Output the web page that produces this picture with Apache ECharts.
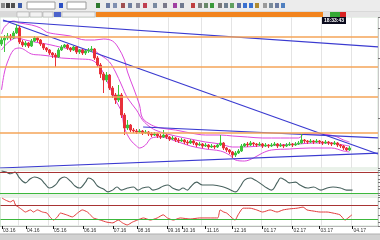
<!DOCTYPE html>
<html><head><meta charset="utf-8">
<script src="https://cdn.jsdelivr.net/npm/echarts@6/dist/echarts.min.js"></script>
<style>html,body{margin:0;padding:0;background:#fff;overflow:hidden}#c{width:380px;height:240px}</style>
</head><body><div id="c"></div>
<script>
// OHLC rows: [open, close, low, high]
const candles = [
[1724,1728,1722,1731],[1728,1730,1716,1733],[1730,1732,1728,1735],[1732,1730,1728,1734],[1730,1735,1729,1737],
[1735,1740,1734,1744],[1740,1726,1724,1742],[1726,1723,1721,1728],[1723,1725,1721,1727],[1725,1722,1720,1726],
[1722,1727,1721,1729],[1727,1730,1726,1732],[1730,1728,1726,1731],[1728,1724,1722,1729],[1724,1720,1718,1725],
[1720,1718,1716,1721],[1718,1715,1713,1719],[1715,1713,1710,1716],[1713,1711,1701,1715],[1711,1718,1710,1720],
[1718,1721,1717,1723],[1721,1723,1720,1724],[1723,1720,1718,1724],[1720,1718,1716,1721],[1718,1721,1717,1722],
[1721,1716,1714,1722],[1716,1718,1714,1719],[1718,1715,1713,1719],[1715,1717,1713,1718],[1717,1718,1715,1720],
[1718,1719,1716,1722],[1719,1710,1708,1720],[1710,1703,1701,1712],[1703,1694,1690,1705],[1694,1688,1675,1696],
[1688,1693,1686,1696],[1693,1680,1678,1694],[1680,1673,1670,1682],[1673,1668,1664,1675],[1668,1673,1666,1683],
[1673,1653,1650,1675],[1653,1640,1633,1655],[1640,1643,1638,1648],[1643,1638,1636,1644],[1638,1637,1635,1640],
[1637,1636,1634,1639],[1636,1637,1635,1639],[1637,1635,1633,1638],[1635,1636,1634,1638],[1636,1634,1632,1637],
[1634,1633,1631,1636],[1633,1634,1632,1636],[1634,1632,1630,1635],[1632,1631,1629,1634],[1631,1633,1630,1638],
[1633,1631,1629,1634],[1631,1629,1627,1632],[1629,1630,1628,1632],[1630,1628,1626,1631],[1628,1627,1625,1630],
[1627,1628,1626,1630],[1628,1626,1624,1629],[1626,1625,1623,1628],[1625,1627,1624,1629],[1627,1625,1623,1628],
[1625,1623,1621,1626],[1623,1624,1622,1626],[1624,1622,1620,1625],[1622,1623,1621,1625],[1623,1621,1619,1624],
[1621,1622,1620,1624],[1622,1621,1619,1623],[1621,1623,1620,1624],[1623,1625,1622,1633],[1625,1620,1618,1626],
[1620,1618,1616,1621],[1618,1616,1614,1619],[1616,1613,1610,1617],[1613,1615,1611,1617],[1615,1617,1614,1619],
[1617,1622,1616,1624],[1622,1624,1621,1625],[1624,1623,1621,1626],[1623,1625,1622,1627],[1625,1624,1622,1626],
[1624,1623,1621,1625],[1623,1624,1622,1626],[1624,1622,1620,1625],[1622,1623,1621,1625],[1623,1622,1620,1624],
[1622,1623,1621,1625],[1623,1624,1622,1626],[1624,1622,1620,1625],[1622,1623,1621,1625],[1623,1622,1620,1624],
[1622,1623,1621,1625],[1623,1624,1622,1626],[1624,1623,1621,1625],[1623,1624,1622,1626],[1624,1625,1623,1627],
[1625,1628,1624,1634],[1628,1627,1625,1629],[1627,1626,1624,1628],[1626,1627,1625,1629],[1627,1626,1624,1628],
[1626,1627,1625,1629],[1627,1626,1624,1628],[1626,1625,1623,1627],[1625,1626,1624,1628],[1626,1625,1623,1627],
[1625,1624,1622,1626],[1624,1625,1623,1627],[1625,1623,1621,1626],[1623,1622,1620,1624],[1622,1620,1618,1623],
[1620,1618,1617,1621],[1618,1620,1617,1622]
];
// Bollinger bands: [candle index, price]
const upperBand = [[0,1734],[1,1741],[4,1747],[6,1745],[10,1743],[13,1740],[15,1736],[18,1734],[23,1732],[28,1728],[31,1728],[34,1729],[37,1727],[39,1720],[41,1708],[42,1696],[44,1680],[46,1663],[47,1650],[50,1643],[53,1640],[58,1638],[63,1635],[68,1633],[73,1633],[77,1632],[82,1631],[87,1630],[93,1630],[99,1630],[101,1634],[106,1634],[111,1632],[114,1628],[116,1626]];
const midBand = [[0,1718],[2,1725],[5,1730],[8,1728],[11,1726],[15,1724],[18,1722],[21,1720],[26,1718],[30,1718],[33,1713],[36,1706],[38,1696],[40,1683],[42,1670],[45,1658],[47,1648],[50,1640],[53,1636],[58,1632],[63,1629],[68,1626],[73,1624],[77,1621],[81,1621],[86,1622],[93,1623],[99,1624],[104,1625],[110,1625],[114,1623],[116,1622]];
const lowerBand = [[0,1678],[1,1696],[2,1706],[4,1718],[6,1720],[10,1714],[13,1713],[16,1712],[20,1710],[26,1709],[30,1708],[33,1700],[35,1688],[38,1668],[40,1656],[41,1640],[43,1628],[45,1622],[46,1620],[48,1623],[50,1630],[53,1631],[58,1627],[63,1622],[68,1619],[73,1617],[76,1613],[78,1608],[81,1607],[84,1610],[87,1615],[90,1618],[96,1619],[103,1620],[110,1620],[114,1617],[116,1616]];
// Trend lines: pairs of [candle index, price]
const trendA = [[0.5,1747],[125.5,1721.1]];
const trendB = [[0.5,1748],[125.5,1614]];
const trendC = [[47.2,1641],[125.5,1630.1]];
const trendD = [[-0.5,1600],[125.5,1614.9]];
const levels = [1731, 1701, 1671.5, 1635];
// Oscillator panel
const osc = [[0,83],[1.5,80],[3,75],[4.5,80],[6,63],[8,49],[9.5,60],[11,66],[13,60],[14.5,46],[16,34],[18,43],[19.5,60],[21,66],[23,54],[24.5,40],[26,34],[28,51],[29,63],[30.5,57],[32,40],[34,31],[35.5,23],[37,28],[38.5,37],[40,28],[42,34],[44,37],[45.5,28],[47,34],[49,37],[50.5,28],[52,31],[54,40],[55.5,43],[57,34],[59,28],[60.5,34],[62,28],[63,37],[65,51],[67,43],[70.5,43],[74,37],[76.5,28],[78,23],[79.5,37],[81,57],[83,63],[84.5,57],[86,49],[88.5,34],[90,28],[92,51],[93,63],[94.5,57],[96,49],[98,51],[99.5,43],[102,34],[104,37],[106.5,28],[108.5,34],[110.5,37],[113,34],[115,28],[117,28]];
const oscLevels = [80, 20];
// RSI panel
const rsi = [[0,90],[1.2,84],[2.8,79],[3.8,84],[4.5,70],[5.5,64],[6.8,56],[7.8,50],[9.5,56],[10.5,50],[11.8,56],[13.5,50],[15,47],[16,36],[17.2,27],[18.5,36],[19.5,47],[21.5,42],[23.5,36],[25.2,47],[26.8,56],[28.5,50],[29.5,42],[30.5,33],[32.8,27],[35,21],[37,19],[38.8,27],[40.2,19],[41.8,13],[43.5,21],[45.2,27],[47.2,33],[49.5,27],[51.8,33],[53.8,42],[55.2,33],[57.2,27],[59.5,33],[62.8,30],[66,33],[69.5,33],[72,33],[72.8,56],[74,50],[75,47],[76.8,33],[77.8,27],[78.8,42],[80.5,61],[82.8,61],[85,56],[87,50],[89.5,56],[91.8,50],[93.8,56],[96,59],[98.5,61],[100.5,64],[101.8,56],[103.8,53],[106.2,50],[108.5,50],[110.5,47],[112.8,42],[114.5,27],[115.5,33],[116.8,42]];
const rsiLevels = [70, 30];
// Time axis
const slotCount = 126;
const tickIdx = [0, 8, 17, 27, 37, 45, 55, 60, 68, 77, 87, 97, 106, 117];
const tickText = ['03.16','04.16','05.16','06.16','07.16','08.16','09.16','10.16','11.16','12.16','01.17','02.17','03.17','04.17'];
const gridIdx = [6,16,26,36,46,56,67,77,87,97,107,117];
const clock = '18:33:43';

const slots = Array.from({length: slotCount}, (_, i) => String(i));
const isGrid = i => gridIdx.includes(i);
const isTick = i => tickIdx.includes(i);
const split = {show: true, interval: isGrid, lineStyle: {color: '#e4e4e4', width: 1}};

function catAxis(gi, withLabels) {
  return {
    type: 'category', gridIndex: gi, data: slots, boundaryGap: true, position: 'bottom',
    axisLine: {show: withLabels, onZero: false, lineStyle: {color: '#b8b8b8'}},
    axisTick: {show: withLabels, alignWithLabel: true, interval: isTick, length: 3, lineStyle: {color: '#111'}},
    axisLabel: {show: withLabels, interval: isTick, align: 'left', margin: 2, padding: [0,0,0,1],
      fontSize: 5, color: '#333', fontFamily: 'Liberation Sans',
      formatter: (v, i) => { const k = tickIdx.indexOf(i); return k >= 0 ? tickText[k] : ''; }},
    splitLine: split
  };
}
function valAxis(gi) {
  return {type: 'value', gridIndex: gi, min: -0.5, max: slotCount - 0.5, show: false, position: 'top',
    axisLine: {onZero: false}};
}
function yAx(gi, mn, mx) {
  return {type: 'value', gridIndex: gi, min: mn, max: mx, position: 'right',
    axisLine: {show: true, onZero: false, lineStyle: {color: '#c8c8c8'}},
    axisTick: {show: true, length: 2, lineStyle: {color: '#777'}},
    axisLabel: {show: false}, splitLine: {show: false}};
}
function line(data, xi, yi, color, w, smooth) {
  return {type: 'line', xAxisIndex: xi, yAxisIndex: yi, data, showSymbol: false, symbol: 'none',
    smooth: smooth, clip: true, silent: true, lineStyle: {color, width: w}, z: 3};
}
function levelLines(vals, colors, w) {
  return {symbol: 'none', silent: true, label: {show: false},
    data: vals.map((v, k) => ({yAxis: v, lineStyle: {color: colors[k], width: w, type: 'solid'}}))};
}

const icons = [[1,'#8a8a8a'],[6,'#404040'],[11,'#505050'],[18,'#3b5ba8'],[59,'#2a4fc4'],[96,'#2f7a2f'],[106,'#6a7aa0'],[113,'#8090b0'],[121,'#a05050'],[128,'#7080a0'],[136,'#8a8a9a'],[143,'#c04050'],[153,'#7a8aa0'],[163,'#7a7a8a'],[173,'#a040a0'],[180,'#707a90'],[191,'#c04040'],[198,'#808080'],[204,'#6a8a6a'],[210,'#3a9a3a'],[218,'#7a7a7a'],[224,'#708090'],[230,'#60a060'],[237,'#6070a0'],[243,'#3a70d0'],[249,'#3a70d0'],[255,'#b08a30'],[263,'#9a9a9a'],[269,'#7a8a9a'],[275,'#6a7aa0'],[281,'#5080c0']];
const graphic = [
  {type: 'rect', shape: {x: 0, y: 0, width: 380, height: 11}, style: {fill: '#ececec'}, z: 50},
  {type: 'rect', shape: {x: 0, y: 11, width: 380, height: 6}, style: {fill: '#d9d9d9'}, z: 50},
  {type: 'rect', shape: {x: 27, y: 2, width: 28, height: 7}, style: {fill: '#fff', stroke: '#9a9a9a', lineWidth: 1}, z: 51},
  {type: 'rect', shape: {x: 67, y: 2, width: 19, height: 7}, style: {fill: '#fff', stroke: '#9a9a9a', lineWidth: 1}, z: 51},
  {type: 'rect', shape: {x: 17, y: 12, width: 12, height: 5}, style: {fill: '#f2f2f2', stroke: '#a0a0a0', lineWidth: 0.5}, z: 51},
  {type: 'rect', shape: {x: 30, y: 12, width: 12, height: 5}, style: {fill: '#f2f2f2', stroke: '#a0a0a0', lineWidth: 0.5}, z: 51},
  {type: 'rect', shape: {x: 43, y: 12, width: 10, height: 5}, style: {fill: '#f2f2f2', stroke: '#a0a0a0', lineWidth: 0.5}, z: 51},
  {type: 'rect', shape: {x: 54, y: 12, width: 7, height: 5}, style: {fill: '#4c64cc'}, z: 51},
  {type: 'rect', shape: {x: 62, y: 12, width: 33, height: 5}, style: {fill: '#f2f2f2', stroke: '#a0a0a0', lineWidth: 0.5}, z: 51},
  {type: 'rect', shape: {x: 96, y: 12, width: 284, height: 5}, style: {fill: '#f2841e'}, z: 51},
  {type: 'rect', shape: {x: 323, y: 12, width: 7, height: 5}, style: {fill: '#dedede'}, z: 52},
  {type: 'rect', shape: {x: 330, y: 12, width: 10, height: 5}, style: {fill: '#35a835'}, z: 52},
  {type: 'rect', shape: {x: 340, y: 12, width: 6, height: 5}, style: {fill: '#d82222'}, z: 52},
  {type: 'rect', shape: {x: 346, y: 12, width: 34, height: 5}, style: {fill: '#e6e6e6'}, z: 52},
  {type: 'rect', shape: {x: 322, y: 17, width: 24, height: 7}, style: {fill: '#0b0b1e'}, z: 60},
  {type: 'text', x: 334, y: 20.5, style: {text: clock, fill: '#fff', font: 'bold 5px Liberation Sans', align: 'center', verticalAlign: 'middle'}, z: 61},
  {type: 'rect', shape: {x: 0, y: 234, width: 380, height: 6}, style: {fill: '#d2d2d2'}, z: 50},
  {type: 'line', shape: {x1: 0, y1: 234, x2: 380, y2: 234}, style: {stroke: '#b0b0b0', lineWidth: 1}, z: 50}
].concat(icons.map(([x, c]) => ({type: 'rect', shape: {x, y: 3, width: 4, height: 5}, style: {fill: c}, z: 51})));

const option = {
  animation: false,
  backgroundColor: '#fff',
  graphic,
  grid: [
    {left: 0, top: 17, width: 378, height: 151, show: true, borderColor: '#d4e4d4', borderWidth: 1},
    {left: 0, top: 170, width: 378, height: 25, show: true, borderColor: '#d4e4d4', borderWidth: 1},
    {left: 0, top: 197, width: 378, height: 29, show: true, borderColor: '#d4e4d4', borderWidth: 1}
  ],
  xAxis: [catAxis(0, false), valAxis(0), catAxis(1, false), valAxis(1), catAxis(2, true), valAxis(2)],
  yAxis: [yAx(0, 1600, 1751), yAx(1, 14, 86), yAx(2, 10, 93)],
  series: [
    {type: 'candlestick', xAxisIndex: 0, yAxisIndex: 0, data: candles, barWidth: 2, silent: true, z: 4,
      itemStyle: {color: '#3cc43c', color0: '#e8303a', borderColor: '#3cc43c', borderColor0: '#e8303a', borderWidth: 1},
      markLine: levelLines(levels, levels.map(() => '#f5a458'), 1.5)},
    line(upperBand, 1, 0, '#dc48dc', 1, 0.35),
    line(midBand, 1, 0, '#dc48dc', 1, 0.35),
    line(lowerBand, 1, 0, '#dc48dc', 1, 0.35),
    line(trendA, 1, 0, '#3a3ad0', 1.2, false),
    line(trendB, 1, 0, '#3a3ad0', 1.2, false),
    line(trendC, 1, 0, '#3a3ad0', 1.2, false),
    line(trendD, 1, 0, '#3a3ad0', 1.2, false),
    Object.assign(line(osc, 3, 1, '#48625e', 1.1, 0.4), {markLine: levelLines(oscLevels, ['#a83434', '#3cb83c'], 1)}),
    Object.assign(line(rsi, 5, 2, '#e23a3a', 1, 0.2), {markLine: levelLines(rsiLevels, ['#a83434', '#3cb83c'], 1)})
  ]
};
echarts.init(document.getElementById('c'), null, {renderer: 'canvas'}).setOption(option);
</script></body></html>
